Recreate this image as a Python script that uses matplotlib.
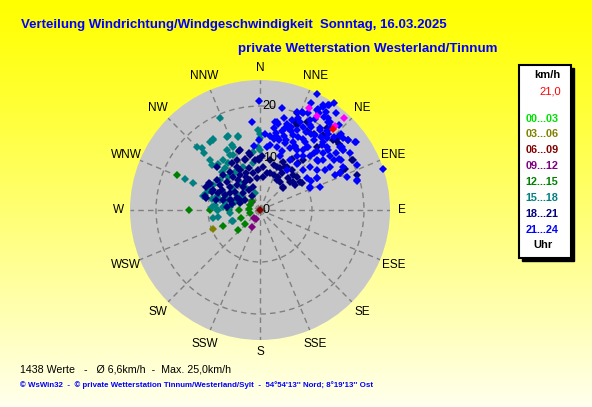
import numpy as np
import matplotlib
matplotlib.use("Agg")
import matplotlib.pyplot as plt
from matplotlib.patches import Rectangle

plt.rcParams['font.family'] = ['Liberation Sans', 'DejaVu Sans']

# ---------------- data ----------------
title = "Verteilung Windrichtung/Windgeschwindigkeit  Sonntag, 16.03.2025"
subtitle = "private Wetterstation Westerland/Tinnum"
stats_text = "1438 Werte   -   Ø 6,6km/h  -  Max. 25,0km/h"
footer_text = ("© WsWin32  -  © private Wetterstation Tinnum/Westerland/Sylt  -  "
               "54°54'13'' Nord; 8°19'13'' Ost")
directions = ["N", "NNE", "NE", "ENE", "E", "ESE", "SE", "SSE",
              "S", "SSW", "SW", "WSW", "W", "WNW", "NW", "NNW"]
ring_values = [0, 10, 20]
r_max = 25
current_speed_label = "21,0"
hour_labels = ["00...03", "03...06", "06...09", "09...12",
               "12...15", "15...18", "18...21", "21...24"]
hour_colors = ["#00e000", "#808000", "#800000", "#800080",
               "#008000", "#008080", "#000080", "#0000ff"]

# wind vectors (east, north) in km/h per 3-hour group
h00_03 = []
h03_06 = [(-9.0, -3.7)]
h06_09 = [(0.0, 0.0)]
h09_12 = [(-1.5, 1.5), (-1.1, -1.5), (-0.8, -1.7), (-1.5, -3.3)]
h12_15 = [(-16.0, 6.7), (-13.6, 0.0), (-9.7, 0.0), (-5.9, 0.0), (-4.0, 0.0),
          (-3.7, -1.5), (-7.2, -3.0), (-4.2, -3.8), (-2.8, -2.6), (-1.9, 1.0),
          (-2.1, 0.2), (-1.9, -0.6), (-1.6, 1.7), (-3.5, 1.7)]
h15_18 = [(-7.7, 17.6), (-9.0, 13.5), (-9.6, 13.1), (-6.4, 14.1), (-4.2, 14.1),
          (-5.1, 12.1), (-6.4, 11.5), (-5.8, 10.6), (-7.1, 9.6), (-8.0, 8.8),
          (-9.6, 9.6), (-11.2, 11.9), (-12.2, 12.2), (-10.8, 10.9), (-6.1, 14.2),
          (-4.2, 14.2), (-9.0, 13.6), (-5.4, 12.5), (-5.1, 10.6), (-9.3, 8.7),
          (-6.1, 9.0), (-7.4, 7.4), (-6.7, 8.0), (-14.4, 5.9), (-12.8, 5.1),
          (-9.9, 3.8), (-10.9, 2.6), (-9.0, 4.8), (-7.7, 5.8), (-6.1, 6.4),
          (-4.8, 7.4), (-3.2, 8.3), (-1.3, 9.0), (0.0, 11.5), (0.0, 14.7),
          (-3.8, 5.1), (-5.4, 4.2), (-2.6, 4.2), (-7.1, 3.5), (-8.3, 2.6),
          (-4.5, 2.9), (-1.0, 3.2), (-0.3, 15.4), (0.0, 13.8), (-0.3, 12.1),
          (-1.3, 11.2), (-9.2, 2.1), (-8.7, 1.0), (-8.0, 0.0), (-9.0, -1.5),
          (-5.3, -2.1), (-7.1, 1.9), (-10.3, 3.2), (-7.7, 1.9), (-6.7, 1.6),
          (-5.8, 0.6), (-8.3, 0.0), (-7.1, 0.6), (-9.3, 0.6), (-8.0, -1.3),
          (-5.8, -0.6), (-5.1, -2.1), (-6.5, 2.3), (-4.8, 1.6), (-3.5, 2.5)]
h18_21 = [(7.1, 16.3), (9.0, 17.0), (10.3, 14.7), (12.1, 14.4), (14.7, 13.5),
          (17.0, 13.5), (15.1, 12.6), (6.7, 12.2), (12.8, 15.7), (6.7, 17.0),
          (7.1, 18.6), (9.0, 15.1), (14.1, 13.5), (15.1, 14.2), (17.6, 9.6),
          (18.6, 6.7), (16.0, 7.7), (10.9, 12.1), (8.3, 9.6), (4.5, 9.3),
          (3.2, 8.3), (2.6, 6.7), (4.5, 4.5), (3.2, 5.8), (5.4, 6.1),
          (7.1, 6.4), (8.0, 5.1), (0.6, 8.3), (0.3, 10.3), (1.9, 9.6),
          (1.3, 7.1), (4.2, 7.1), (6.1, 7.7), (6.4, 5.4), (3.5, 6.4),
          (4.8, 8.3), (2.6, 8.7), (3.8, 8.0), (5.1, 8.3), (1.9, 7.1),
          (5.8, 5.4), (6.7, 4.8), (7.7, 5.4), (4.5, 4.2), (3.8, 5.4),
          (6.4, 6.7), (0.6, 6.4), (17.8, 9.6), (16.3, 7.9), (6.1, 9.9),
          (7.4, 9.0),
          (-3.8, 11.5), (-1.9, 10.6), (-1.0, 9.6), (-2.9, 9.6), (-4.5, 8.2),
          (-5.8, 7.4), (-7.1, 6.7), (-8.2, 5.8), (-9.6, 5.0), (-10.4, 4.4),
          (-10.6, 2.6), (-9.0, 3.8), (-7.4, 3.8), (-5.8, 4.5), (-4.5, 4.8),
          (-3.2, 4.5), (-2.2, 3.8), (-1.3, 4.5), (-3.2, 3.2), (-4.5, 2.4),
          (-5.8, 1.9), (-6.7, 2.9), (-8.0, 3.2), (-3.8, 1.3), (-5.4, 1.2),
          (-1.9, 5.8), (-0.6, 6.1), (-0.3, 7.7), (-2.6, 7.1), (-5.1, 6.3),
          (-7.7, 4.8), (-9.3, 3.5), (-6.4, 5.4), (-4.8, 3.5), (-2.9, 1.9),
          (-1.6, 2.6), (-2.2, 8.0), (-3.8, 6.7), (-1.3, 7.1), (-5.8, 3.2),
          (-7.1, 1.9), (-8.5, 1.9), (-6.4, 0.6), (-2.9, 5.4), (-4.2, 5.8),
          (-0.3, 9.9), (-8.3, 8.3), (-4.0, 11.4), (-2.1, 10.9), (-0.1, 9.6),
          (-5.4, 9.0), (-4.5, 9.6), (-2.9, 9.9), (-9.9, 5.1), (-3.8, 7.7),
          (-2.6, 6.4), (-10.4, 2.4), (-5.5, 2.0), (-4.0, 2.2)]
h21_24 = [(-0.1, 21.0), (10.9, 22.4), (14.2, 20.5), (4.2, 19.7), (7.1, 18.8),
          (8.3, 18.6), (10.9, 19.2), (12.1, 19.9), (13.3, 20.2), (12.3, 17.9),
          (13.1, 17.0), (9.6, 17.4), (4.6, 17.6), (3.5, 16.5), (2.6, 15.7),
          (5.1, 16.5), (1.0, 14.6), (-0.1, 13.5), (-1.6, 17.0), (2.6, 13.6),
          (3.7, 13.5), (4.6, 14.2), (5.9, 15.1), (7.1, 15.4), (8.3, 16.0),
          (9.9, 15.9), (11.5, 15.4), (12.8, 15.1), (14.2, 14.0), (15.5, 14.7),
          (17.0, 13.5), (18.5, 13.1), (16.0, 11.5), (14.7, 11.0), (13.5, 10.3),
          (14.2, 9.6), (15.5, 9.6), (18.6, 8.7), (23.7, 7.8), (15.4, 7.1),
          (18.6, 5.6), (10.9, 7.7), (12.2, 9.6), (9.6, 10.3), (8.3, 11.5),
          (7.1, 11.5), (5.8, 11.9), (3.2, 12.1), (1.9, 12.5), (5.8, 9.6),
          (7.1, 8.8), (8.3, 7.7), (9.6, 4.4), (9.9, 5.6), (10.9, 6.1),
          (5.1, 7.7), (3.8, 10.3), (8.7, 13.1), (10.3, 13.5), (11.9, 12.5),
          (12.8, 12.1), (10.9, 11.4), (7.4, 14.1), (6.4, 13.1), (4.2, 11.4),
          (13.5, 8.3), (14.4, 6.7), (9.6, 8.3), (10.9, 9.6), (8.3, 10.3),
          (4.8, 12.8), (1.9, 14.2), (3.1, 14.9), (5.3, 15.7), (7.7, 17.0),
          (9.3, 18.6), (9.9, 20.5), (12.7, 18.9), (14.7, 18.6), (13.6, 16.0),
          (17.3, 10.9), (16.0, 8.3), (12.2, 10.9), (12.8, 13.8), (9.9, 14.6),
          (8.3, 13.6), (4.2, 15.1), (3.2, 17.0), (1.3, 12.2), (7.1, 10.3),
          (15.1, 16.3), (15.7, 12.2), (16.7, 6.4), (11.5, 4.5), (12.2, 20.1),
          (13.1, 20.1), (11.2, 19.4), (11.4, 18.6), (13.1, 17.6), (13.5, 17.0),
          (8.0, 18.8), (7.4, 17.6), (6.1, 17.3), (4.8, 15.8), (2.9, 17.0),
          (2.6, 13.8), (3.5, 13.8), (6.4, 14.4), (9.6, 16.3), (10.6, 14.4),
          (12.2, 13.1), (15.4, 14.3), (16.0, 13.8), (15.4, 12.2), (18.3, 13.1),
          (13.1, 14.7), (11.5, 15.7), (9.0, 12.2), (9.6, 4.2), (9.0, 6.1),
          (10.9, 6.1), (12.5, 7.7), (15.4, 7.1), (16.0, 11.5), (15.1, 9.9),
          (18.6, 5.8), (11.2, 9.4), (10.3, 10.9), (9.3, 12.2), (13.1, 11.5),
          (6.0, 16.0), (8.8, 15.0), (10.5, 17.5), (6.8, 12.3), (11.8, 14.0),
          (5.0, 13.5), (-1.1, 12.3)]
peak_gusts = [(9.5, 19.7), (11.0, 18.0), (16.2, 17.6), (14.4, 16.1)]
current_wind = [(14.1, 15.5)]

groups = [h00_03, h03_06, h06_09, h09_12, h12_15, h15_18, h18_21, h21_24]

# ---------------- figure ----------------
W, H = 592, 407
fig = plt.figure(figsize=(W / 100, H / 100), dpi=100)

def fx(px):
    return px / W

def fy(py):
    return 1 - py / H

# background gradient
bg = fig.add_axes([0, 0, 1, 1], zorder=-10)
t = np.linspace(0, 1, 256).reshape(-1, 1)
img = np.zeros((256, 1, 3))
img[..., 0] = 1.0
img[..., 1] = 1.0
img[..., 2] = (t ** 1.1) * 0.93
bg.imshow(img, aspect='auto', extent=[0, 1, 0, 1], origin='upper')
bg.axis('off')

# polar plot
cx, cy, rad = 260, 210, 130
ax = fig.add_axes([fx(cx - rad), fy(cy + rad), 2 * rad / W, 2 * rad / H],
                  projection='polar')
ax.set_facecolor('#c8c8c8')
ax.spines['polar'].set_visible(False)
ax.set_theta_zero_location('N')
ax.set_theta_direction(-1)
ax.set_ylim(0, r_max)
ax.set_xticks(np.deg2rad(np.arange(len(directions)) * 22.5))
ax.set_xticklabels([])
ax.set_yticks(ring_values[1:])
ax.set_yticklabels([])
ax.tick_params(length=0)
ax.grid(True, color='#808080', linestyle=(0, (4, 3)), linewidth=1.0)

for i, name in enumerate(directions):
    th = np.deg2rad(i * 22.5)
    rr = 27.3 if i % 4 == 0 else 27.8
    ax.text(th, rr, name, ha='center', va='center', fontsize=8.5,
            color='black', clip_on=False)

for v in ring_values:
    ax.annotate(str(v), xy=(0, v), xytext=(2, 0), textcoords='offset points',
                ha='left', va='center', fontsize=9, color='black',
                annotation_clip=False, zorder=5)

def draw(points, color, z):
    if not points:
        return
    arr = np.array(points, dtype=float)
    e, n = arr[:, 0], arr[:, 1]
    theta = np.arctan2(e, n)
    r = np.hypot(e, n)
    ax.plot(theta, r, linestyle='none', marker='D', markersize=3.9,
            markeredgewidth=0, color=color, clip_on=False, zorder=z)

for k, (pts, col) in enumerate(zip(groups, hour_colors)):
    draw(pts, col, 3 + k * 0.01)
draw(peak_gusts, '#ff00ff', 3.5)
draw(current_wind, '#ff0000', 3.6)

# titles
fig.text(fx(21), fy(25), title, fontsize=9.5, fontweight='bold',
         color='#0000ff', ha='left', va='center')
fig.text(fx(238), fy(49), subtitle, fontsize=9.6, fontweight='bold',
         color='#0000ff', ha='left', va='center')
fig.text(fx(20), fy(369), stats_text, fontsize=7.7, color='black',
         ha='left', va='center')
fig.text(fx(20), fy(385), footer_text, fontsize=5.65, fontweight='bold',
         color='#0000ff', ha='left', va='center')

# legend box
x0, x1, y0, y1 = 519, 571, 65, 258
fig.patches.append(Rectangle((fx(x0 + 3), fy(y1 + 3)), (x1 - x0) / W,
                             (y1 - y0) / H, transform=fig.transFigure,
                             facecolor='black', edgecolor='black', zorder=1))
fig.patches.append(Rectangle((fx(x0), fy(y1)), (x1 - x0) / W, (y1 - y0) / H,
                             transform=fig.transFigure, facecolor='white',
                             edgecolor='black', linewidth=1.5, zorder=2))
fig.text(fx(547), fy(75), "km/h", fontsize=8, fontweight='bold',
         color='black', ha='center', va='center')
fig.text(fx(561), fy(92), current_speed_label, fontsize=8, color='#ff0000',
         ha='right', va='center')
for i, (lab, col) in enumerate(zip(hour_labels, hour_colors)):
    fig.text(fx(542), fy(118.5 + i * 15.9), lab, fontsize=7.8,
             fontweight='bold', color=col, ha='center', va='center')
fig.text(fx(543), fy(245.5), "Uhr", fontsize=8, fontweight='bold',
         color='black', ha='center', va='center')

fig.savefig("out.png", dpi=100)
